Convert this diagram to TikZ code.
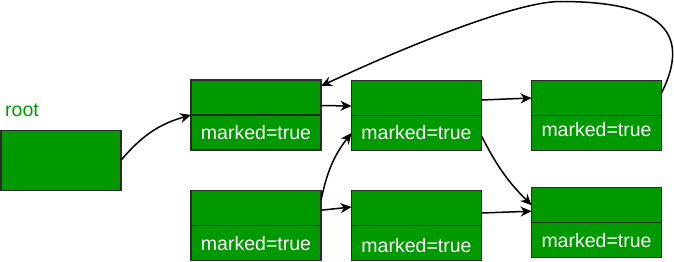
\documentclass[tikz,border=0pt]{standalone}
\usepackage{fontspec}
\setmainfont{Liberation Sans}
\usetikzlibrary{arrows.meta,positioning}
\definecolor{boxgreen}{HTML}{009900}
\definecolor{edgegray}{HTML}{2B2B2B}
\tikzset{
  cell/.style={draw=edgegray, fill=boxgreen, line width=1.3pt, outer sep=0pt,
    minimum width=130pt, minimum height=35pt, inner sep=0pt, text=white,
    font=\fontsize{19.5}{22}\selectfont},
  link/.style={line width=1.5pt, -{Stealth[length=11pt,width=10pt,inset=3.5pt]}},
}
\begin{document}
\begin{tikzpicture}[x=1pt, y=-1pt]
            \useasboundingbox (0,0) rectangle (674,262);

            % Define root
            \node[cell, minimum width=120pt, minimum height=60pt] (R) at (61,160.3) {};
            \node[anchor=base west, inner sep=0pt, text=boxgreen, font=\fontsize{19.5}{22}\selectfont] (RL) at (5,116) {root};

            % Define top row
            \node[cell] (A) at (256,97.5) {};
            \node[cell, below=0pt of A] (AM) {marked=true};
            \node[cell] (B) at (416.5,98) {};
            \node[cell, below=0pt of B] (BM) {marked=true};
            \node[cell] (C) at (596.5,98) {};
            \node[cell, below=0pt of C] (CM) {\raisebox{3pt}[\height][\depth]{marked=true}};

            % Define bottom row
            \node[cell] (D) at (256,208.2) {};
            \node[cell, below=0pt of D] (DM) {marked=true};
            \node[cell] (E) at (416.5,208) {};
            \node[cell, below=0pt of E] (EM) {\raisebox{-3pt}[\height][\depth]{marked=true}};
            \node[cell] (F) at (596.5,205.2) {};
            \node[cell, below=0pt of F] (FM) {marked=true};

            % Draw links
            \draw[link] (R.east) to[out=50, in=196] (A.south west);
            \draw[link] ([yshift=-8pt]A.east) -- ([yshift=-8pt]B.west);
            \draw[link] ([yshift=-2pt]B.east) -- (C.west);
            \coordinate (T) at (560,1.5);
            \draw[link] ([yshift=5pt]C.east) .. controls (698,20) and (640,1.5) .. (T)
                .. controls (520,1.5) and (420,40) .. ([yshift=-6pt]A.north east);
            \draw[link] ([yshift=-3pt]BM.east) to[out=-63, in=135] (F.west);
            \draw[link] ([yshift=8pt]D.east) to[out=78, in=-128] (BM.west);
            \draw[link] ([yshift=-2pt]D.east) -- ([yshift=1pt]E.west);
            \draw[link] ([yshift=-5pt]E.east) -- ([yshift=-6pt]F.west);
        \end{tikzpicture}
\end{document}
